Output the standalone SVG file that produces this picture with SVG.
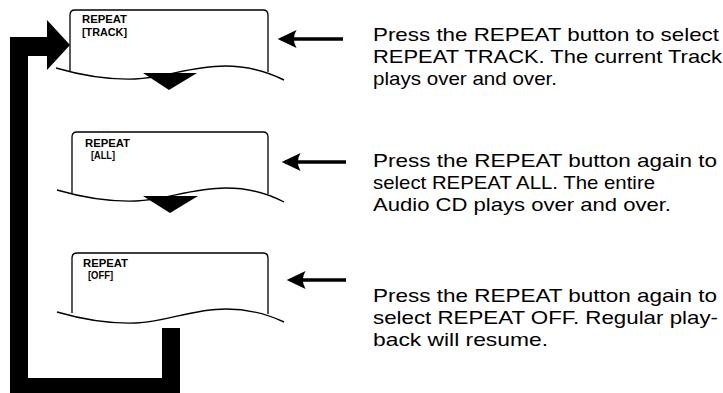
<svg xmlns="http://www.w3.org/2000/svg" width="723" height="393" viewBox="0 0 723 393">
<style>
.bg{fill:#fff}
.box{fill:none;stroke:#000;stroke-width:1.3;stroke-linejoin:round}
.wave{fill:none;stroke:#000;stroke-width:1.4}
.lcd{font-family:"Liberation Sans",Arial,sans-serif;font-size:10px;font-weight:bold;fill:#000}
.desc{font-family:"Liberation Sans",Arial,sans-serif;font-size:18.5px;fill:#000}
.solid{fill:#000}
.ptr{stroke:#000;stroke-width:3.5;fill:none}
</style>
<defs>
<marker id="ah" markerUnits="userSpaceOnUse" markerWidth="20" markerHeight="20" refX="14" refY="9" orient="auto" viewBox="0 0 18 18">
<path d="M17,9 L0,1 Q5,9 0,17 Z" fill="#000"/>
</marker>
</defs>
<rect class="bg" x="0" y="0" width="723" height="393"/>

<g id="screen-track">
<path class="box" d="M70,71 V15 Q70,10 75,10 H263 Q268,10 268,15 V72"/>
<path class="wave" d="M56,68 C80,75 105,80 135,79 C165,78 190,66 225,66 C250,66 268,72 284,80"/>
<text class="lcd" x="82" y="23" textLength="45" lengthAdjust="spacingAndGlyphs">REPEAT</text>
<text class="lcd" x="82" y="36" textLength="45" lengthAdjust="spacingAndGlyphs">[TRACK]</text>
</g>

<g id="screen-all">
<path class="box" d="M72,193 V137 Q72,132 77,132 H263 Q268,132 268,137 V194"/>
<path class="wave" d="M57,190 C81,197 106,202 136,201 C166,200 191,188 226,188 C251,188 269,194 284,202"/>
<text class="lcd" x="85" y="147" textLength="45" lengthAdjust="spacingAndGlyphs">REPEAT</text>
<text class="lcd" x="91" y="159" textLength="24" lengthAdjust="spacingAndGlyphs">[ALL]</text>
</g>

<g id="screen-off">
<path class="box" d="M72,313 V258 Q72,253 77,253 H263 Q268,253 268,258 V314"/>
<path class="wave" d="M57,312 C81,319 106,324 136,323 C166,322 191,309 226,309 C251,309 269,315 284,322"/>
<text class="lcd" x="83" y="267" textLength="45" lengthAdjust="spacingAndGlyphs">REPEAT</text>
<text class="lcd" x="88" y="279" textLength="25" lengthAdjust="spacingAndGlyphs">[OFF]</text>
</g>

<g id="text-track">
<text class="desc" x="373" y="41" textLength="346" lengthAdjust="spacingAndGlyphs">Press the REPEAT button to select</text>
<text class="desc" x="373" y="63" textLength="349" lengthAdjust="spacingAndGlyphs">REPEAT TRACK. The current Track</text>
<text class="desc" x="373" y="85" textLength="184" lengthAdjust="spacingAndGlyphs">plays over and over.</text>
</g>

<g id="text-all">
<text class="desc" x="373" y="167" textLength="344" lengthAdjust="spacingAndGlyphs">Press the REPEAT button again to</text>
<text class="desc" x="373" y="189" textLength="282" lengthAdjust="spacingAndGlyphs">select REPEAT ALL. The entire</text>
<text class="desc" x="373" y="211" textLength="298" lengthAdjust="spacingAndGlyphs">Audio CD plays over and over.</text>
</g>

<g id="text-off">
<text class="desc" x="373" y="302" textLength="344" lengthAdjust="spacingAndGlyphs">Press the REPEAT button again to</text>
<text class="desc" x="373" y="324" textLength="345" lengthAdjust="spacingAndGlyphs">select REPEAT OFF. Regular play-</text>
<text class="desc" x="373" y="346" textLength="175" lengthAdjust="spacingAndGlyphs">back will resume.</text>
</g>

<g id="connectors">
<path id="loop-arrow" class="solid" d="M10,393 V37 H47 V20 L70,45 L47,70 V56 H28 V378 H162 V328 H180 V393 Z"/>
<polygon class="solid" points="143,73 197,73 169,90"/>
<polygon class="solid" points="143,196 198,196 170,213"/>
<line class="ptr" x1="343" y1="39" x2="281" y2="39" marker-end="url(#ah)"/>
<line class="ptr" x1="346" y1="162" x2="285" y2="162" marker-end="url(#ah)"/>
<line class="ptr" x1="346" y1="280" x2="290" y2="280" marker-end="url(#ah)"/>
</g>
</svg>
